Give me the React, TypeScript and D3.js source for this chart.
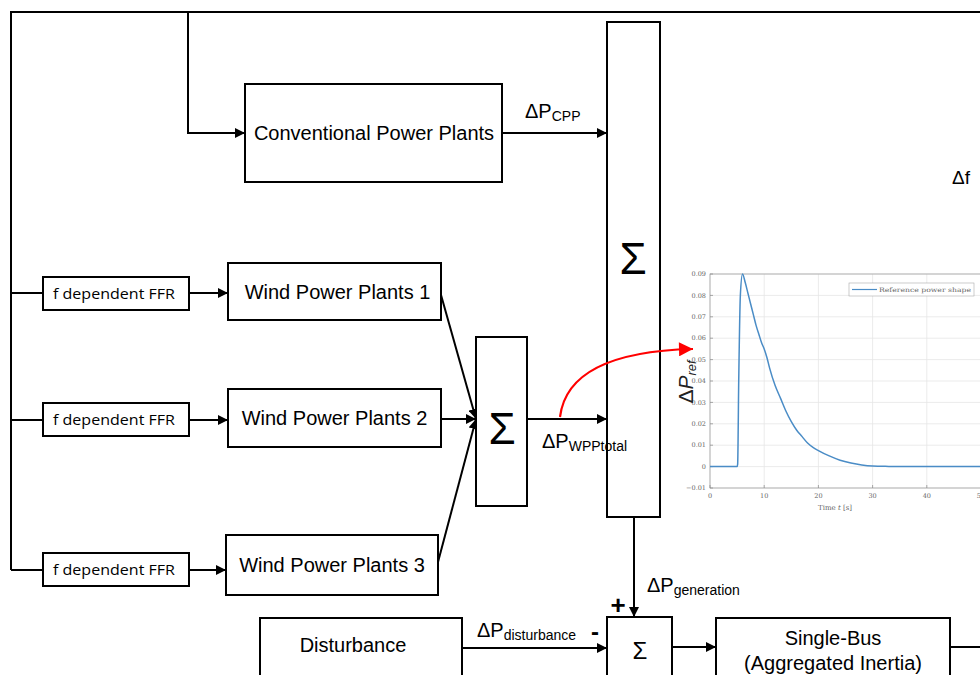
import React from "react";
import * as d3 from "d3";

// Inset chart data (reference power shape)
const timeS = [0, 5, 5.1, 5.3, 5.6, 6, 6.5, 7, 7.5, 8, 8.5, 9, 9.5, 10, 10.5, 11, 12, 13, 14, 15, 16, 17, 18, 19, 20, 22, 24, 26, 28, 30, 33, 36, 40, 45, 50];
const deltaPRef = [0, 0, 0.001, 0.04, 0.08, 0.09, 0.086, 0.081, 0.076, 0.071, 0.066, 0.062, 0.058, 0.055, 0.051, 0.046, 0.038, 0.032, 0.026, 0.021, 0.017, 0.014, 0.011, 0.009, 0.0075, 0.005, 0.003, 0.0017, 0.0008, 0.0003, 0.0001, 0, 0, 0, 0];
const xTicks = [0, 10, 20, 30, 40, 50];
const yTicks = [-0.01, 0, 0.01, 0.02, 0.03, 0.04, 0.05, 0.06, 0.07, 0.08, 0.09];
const legendLabel = "Reference power shape";
const ffrLabels = ["f dependent FFR", "f dependent FFR", "f dependent FFR"];
const wppLabels = ["Wind Power Plants 1", "Wind Power Plants 2", "Wind Power Plants 3"];

const SANS = "'Liberation Sans', Arial, sans-serif";
const SERIF = "'DejaVu Serif', 'Liberation Serif', serif";

export default function App() {
  const x = d3.scaleLinear().domain([0, 50]).range([710, 981]);
  const y = d3.scaleLinear().domain([-0.01, 0.09]).range([488, 274]);
  const line = d3
    .line<number>()
    .x((_, i) => x(timeS[i]))
    .y((d) => y(d))
    .curve(d3.curveMonotoneX);

  const sw = 2;
  const ffrY = [277, 403, 553];
  const wppBoxes = [
    { x: 228, y: 263, w: 213, h: 57 },
    { x: 228, y: 389, w: 213, h: 58 },
    { x: 226, y: 535, w: 212, h: 60 },
  ];
  const branchY = [293, 420, 570];

  return (
    <svg width={980} height={675} style={{ position: "absolute", left: 0, top: 0, background: "#fff" }}>
      <defs>
        <marker id="arr" viewBox="0 0 10 10" refX={10} refY={5} markerWidth={10} markerHeight={10} markerUnits="userSpaceOnUse" orient="auto">
          <path d="M0,0 L10,5 L0,10 z" fill="#000" />
        </marker>
        <marker id="arrRed" viewBox="0 0 10 10" refX={10} refY={5} markerWidth={16} markerHeight={14} markerUnits="userSpaceOnUse" orient="auto">
          <path d="M0,0 L10,5 L0,10 z" fill="#f00" />
        </marker>
        <clipPath id="plotclip">
          <rect x={683} y={265} width={297} height={260} />
        </clipPath>
      </defs>

      {/* feedback lines */}
      <path d="M11,570 V12 H980" fill="none" stroke="#000" strokeWidth={sw} />
      <path d="M188,12 V133 H245" fill="none" stroke="#000" strokeWidth={sw} markerEnd="url(#arr)" />

      {/* big sum */}
      <rect x={607} y={22} width={53} height={495} fill="#fff" stroke="#000" strokeWidth={sw} />
      <text x={633} y={274} textAnchor="middle" fontFamily={SANS} fontSize={44}>Σ</text>

      {/* Conventional power plants */}
      <rect x={245} y={84} width={257} height={98} fill="#fff" stroke="#000" strokeWidth={sw} />
      <text x={374} y={140} textAnchor="middle" fontFamily={SANS} fontSize={20}>Conventional Power Plants</text>
      <line x1={502} y1={133} x2={607} y2={133} stroke="#000" strokeWidth={sw} markerEnd="url(#arr)" />
      <text x={525} y={118} fontFamily={SANS} fontSize={20}>ΔP<tspan fontSize={14} dy={3}>CPP</tspan></text>

      {/* FFR branches */}
      {branchY.map((by, i) => (
        <g key={i}>
          <line x1={11} y1={by} x2={43} y2={by} stroke="#000" strokeWidth={sw} />
          <rect x={43} y={ffrY[i]} width={146} height={33} fill="#fff" stroke="#000" strokeWidth={sw} />
          <text x={53} y={ffrY[i] + 22} fontFamily="'Open Sans', 'Noto Sans', sans-serif" fontSize={14.5} textLength={122} lengthAdjust="spacingAndGlyphs">{ffrLabels[i]}</text>
          <line x1={189} y1={by} x2={wppBoxes[i].x} y2={by} stroke="#000" strokeWidth={sw} markerEnd="url(#arr)" />
          <rect x={wppBoxes[i].x} y={wppBoxes[i].y} width={wppBoxes[i].w} height={wppBoxes[i].h} fill="#fff" stroke="#000" strokeWidth={sw} />
          <text x={wppBoxes[i].x + wppBoxes[i].w / 2 + (i === 0 ? 3 : 0)} y={wppBoxes[i].y + wppBoxes[i].h / 2 + 7} textAnchor="middle" fontFamily={SANS} fontSize={20}>{wppLabels[i]}</text>
        </g>
      ))}

      {/* lines to small sum */}
      <line x1={441} y1={295} x2={476} y2={419} stroke="#000" strokeWidth={sw} markerEnd="url(#arr)" />
      <line x1={441} y1={419} x2={476} y2={419} stroke="#000" strokeWidth={sw} markerEnd="url(#arr)" />
      <line x1={438} y1={562} x2={476} y2={419} stroke="#000" strokeWidth={sw} markerEnd="url(#arr)" />

      <rect x={476} y={337} width={51} height={169} fill="#fff" stroke="#000" strokeWidth={sw} />
      <text x={502} y={444} textAnchor="middle" fontFamily={SANS} fontSize={44}>Σ</text>
      <line x1={527} y1={419} x2={607} y2={419} stroke="#000" strokeWidth={sw} markerEnd="url(#arr)" />
      <text x={542} y={448} fontFamily={SANS} fontSize={20}>ΔP<tspan fontSize={14} dy={3}>WPPtotal</tspan></text>

      {/* generation arrow */}
      <line x1={634} y1={517} x2={634} y2={617} stroke="#000" strokeWidth={sw} markerEnd="url(#arr)" />
      <text x={647} y={592} fontFamily={SANS} fontSize={20}>ΔP<tspan fontSize={14} dy={3}>generation</tspan></text>
      <text x={618} y={614} textAnchor="middle" fontFamily={SANS} fontSize={26} fontWeight="bold">+</text>
      <text x={595} y={640} textAnchor="middle" fontFamily={SANS} fontSize={24} fontWeight="bold">-</text>

      {/* bottom row */}
      <rect x={260} y={618} width={202} height={80} fill="#fff" stroke="#000" strokeWidth={sw} />
      <text x={353} y={652} textAnchor="middle" fontFamily={SANS} fontSize={20}>Disturbance</text>
      <line x1={462} y1={648} x2={607} y2={648} stroke="#000" strokeWidth={sw} markerEnd="url(#arr)" />
      <text x={477} y={637} fontFamily={SANS} fontSize={20}>ΔP<tspan fontSize={14} dy={3}>disturbance</tspan></text>

      <rect x={607} y={617} width={65} height={80} fill="#fff" stroke="#000" strokeWidth={sw} />
      <text x={640} y={659} textAnchor="middle" fontFamily={SANS} fontSize={24}>Σ</text>
      <line x1={672} y1={647} x2={716} y2={647} stroke="#000" strokeWidth={sw} markerEnd="url(#arr)" />

      <rect x={716} y={618} width={234} height={80} fill="#fff" stroke="#000" strokeWidth={sw} />
      <text x={833} y={645} textAnchor="middle" fontFamily={SANS} fontSize={20}>Single-Bus</text>
      <text x={833} y={670} textAnchor="middle" fontFamily={SANS} fontSize={20}>(Aggregated Inertia)</text>
      <line x1={950} y1={647} x2={980} y2={647} stroke="#000" strokeWidth={sw} />

      <text x={952} y={184} fontFamily={SANS} fontSize={19}>Δf</text>

      {/* inset chart */}
      <g clipPath="url(#plotclip)">
        {xTicks.map((t) => (
          <line key={"gx" + t} x1={x(t)} x2={x(t)} y1={y(0.09)} y2={y(-0.01)} stroke="#e6e6e6" strokeWidth={0.8} />
        ))}
        {yTicks.map((t) => (
          <line key={"gy" + t} x1={x(0)} x2={x(50)} y1={y(t)} y2={y(t)} stroke="#e6e6e6" strokeWidth={0.8} />
        ))}
        <rect x={x(0)} y={y(0.09)} width={x(50) - x(0)} height={y(-0.01) - y(0.09)} fill="none" stroke="#999" strokeWidth={0.7} />
        {xTicks.map((t) => (
          <line key={"tx" + t} x1={x(t)} x2={x(t)} y1={y(-0.01)} y2={y(-0.01) - 3} stroke="#888" strokeWidth={0.7} />
        ))}
        {yTicks.map((t) => (
          <line key={"ty" + t} x1={x(0)} x2={x(0) + 3} y1={y(t)} y2={y(t)} stroke="#888" strokeWidth={0.7} />
        ))}
        <path d={line(deltaPRef) || ""} fill="none" stroke="#4a8cc6" strokeWidth={1.5} />
        {/* legend */}
        <rect x={849} y={283} width={125} height={13} fill="#fff" stroke="#aaa" strokeWidth={0.6} />
        <line x1={852} x2={877} y1={289.5} y2={289.5} stroke="#4a8cc6" strokeWidth={1.2} />
        <text x={879} y={292} fontFamily={SERIF} fontSize={6.3} fill="#666" textLength={92} lengthAdjust="spacingAndGlyphs">{legendLabel}</text>
        {xTicks.map((t) => (
          <text key={"lx" + t} x={x(t)} y={498} textAnchor="middle" fontFamily={SERIF} fontSize={6.5} fill="#666">{t}</text>
        ))}
        {yTicks.map((t) => (
          <text key={"ly" + t} x={706} y={y(t) + 2.2} textAnchor="end" fontFamily={SERIF} fontSize={6.5} fill="#666">{d3.format("")(+t.toFixed(2))}</text>
        ))}
        <text x={835} y={510} textAnchor="middle" fontFamily={SERIF} fontSize={7} fill="#666">Time <tspan fontStyle="italic">t</tspan> [s]</text>
      </g>
      <text transform="translate(693,382) rotate(-90)" textAnchor="middle" fontFamily={SANS} fontSize={21} fill="#222">Δ<tspan fontStyle="italic">P</tspan><tspan fontSize={13} dy={3} fontStyle="italic">ref</tspan></text>

      {/* red arrow */}
      <path d="M560,417 Q568,352 693,349" fill="none" stroke="#f00" strokeWidth={2.2} markerEnd="url(#arrRed)" />
    </svg>
  );
}
